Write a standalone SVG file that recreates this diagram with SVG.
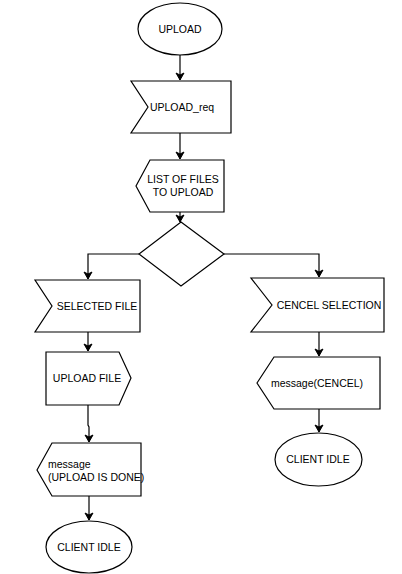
<svg xmlns="http://www.w3.org/2000/svg" width="402" height="574" viewBox="0 0 402 574">
<defs>
<marker id="arr" markerWidth="10" markerHeight="10" refX="8" refY="5" orient="auto" markerUnits="userSpaceOnUse">
<path d="M1,1 L8,5 L1,9 L3,5 Z" fill="#000" stroke="#000" stroke-width="1"/>
</marker>
<style>
.s{fill:#fff;stroke:#000;stroke-width:1.2}
.c{fill:none;stroke:#000;stroke-width:1.2;marker-end:url(#arr)}
text{font-family:"Liberation Sans",Arial,sans-serif;font-size:10.5px;fill:#000}
.m{text-anchor:middle;dominant-baseline:central}
</style>
</defs>
<rect width="402" height="574" fill="#fff"/>
<g id="connectors">
<path class="c" d="M180,55 L180,80"/>
<path class="c" d="M180,133 L180,159"/>
<path class="c" d="M180,212 L180,222"/>
<path class="c" d="M139,254 L88,254 L88,279"/>
<path class="c" d="M224,254 L319,254 L319,277"/>
<path class="c" d="M88,332 L88,351"/>
<path class="c" d="M319,332 L319,356"/>
<path class="c" d="M319,409 L319,432"/>
<path class="c" d="M88,405 L88,425 L89,427 L89,442"/>
<path class="c" d="M89,496 L89,520"/>
</g>
<g id="upload">
<ellipse class="s" cx="180" cy="29" rx="42" ry="26"/>
<text class="m" x="180" y="29">UPLOAD</text>
</g>
<g id="upload_req">
<polygon class="s" points="131,81 231,81 231,133 131,133 148,107"/>
<text class="m" x="182" y="107">UPLOAD_req</text>
</g>
<g id="list_files">
<polygon class="s" points="136,186 150,160 224,160 224,212 150,212"/>
<text class="m" x="183" y="179">LIST OF FILES</text>
<text class="m" x="183" y="192">TO UPLOAD</text>
</g>
<g id="decision">
<polygon class="s" points="181,222 224,254 181,286 139,254"/>
</g>
<g id="selected_file">
<polygon class="s" points="35,280 140,280 140,332 35,332 52,306"/>
<text class="m" x="97" y="306">SELECTED FILE</text>
</g>
<g id="cencel_selection">
<polygon class="s" points="251,278 384,278 384,332 251,332 272,305"/>
<text class="m" x="329" y="305">CENCEL SELECTION</text>
</g>
<g id="upload_file">
<polygon class="s" points="46,352 119,352 131,378 119,405 46,405"/>
<text class="m" x="87" y="378">UPLOAD FILE</text>
</g>
<g id="message_cencel">
<polygon class="s" points="257,383 274,357 380,357 380,409 274,409"/>
<text class="m" x="317" y="383">message(CENCEL)</text>
</g>
<g id="client_idle_right">
<ellipse class="s" cx="318.5" cy="459.5" rx="43.5" ry="26.5"/>
<text class="m" x="318" y="459">CLIENT IDLE</text>
</g>
<g id="message_done">
<polygon class="s" points="37,470 52,443 141,443 141,496 52,496"/>
<text x="48" y="467.5">message</text>
<text x="48" y="480.5">(UPLOAD IS DONE)</text>
</g>
<g id="client_idle_left">
<ellipse class="s" cx="89" cy="547" rx="43" ry="26"/>
<text class="m" x="89" y="547">CLIENT IDLE</text>
</g>
</svg>
